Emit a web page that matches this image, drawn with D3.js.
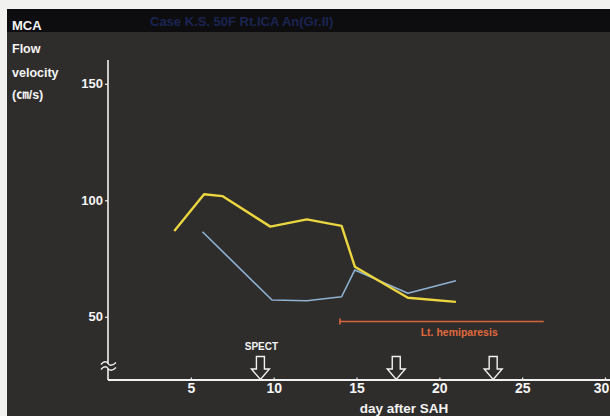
<!DOCTYPE html>
<html>
<head>
<meta charset="utf-8">
<script src="https://cdn.jsdelivr.net/npm/d3@7"></script>
<style>
  html, body { margin: 0; padding: 0; background: #f1f1f0; }
  svg { display: block; }
  .num { font-family: "Liberation Sans Narrow", "Arial Narrow", "Liberation Sans", Arial, sans-serif; font-weight: bold; }
  .lab { font-family: "Liberation Sans", Arial, "Noto Sans CJK JP", sans-serif; font-weight: bold; }
</style>
</head>
<body>
<svg id="chart" width="610" height="416"></svg>
<script>
// Doppler MCA flow velocity by day after SAH
const yellowDays = [4, 5.8, 6.9, 9.8, 12, 14.1, 14.9, 18.1, 21];
const yellowValues = [86.8, 102.6, 101.8, 88.7, 91.8, 89, 71.5, 58.2, 56.4];
const blueDays = [5.7, 9.9, 12, 14.1, 14.9, 18.1, 21];
const blueValues = [86.5, 57.2, 56.9, 58.6, 70.1, 60.1, 65.5];
const xTicks = [5, 10, 15, 20, 25, 30];
const yTicks = [50, 100, 150];
const paresisSpan = [14, 26.3];
const paresisLevel = 48;
const spectDays = [9.2, 17.4, 23.25];
const yLabelLines = ["MCA", "Flow", "velocity", "(㎝/s)"];
const titleText = "Case K.S. 50F Rt.ICA An(Gr.II)";

const svg = d3.select("#chart");
const W = 610, H = 416;
const axisY = 380;

const x = d3.scaleLinear().domain([0, 30]).range([108, 605]);
const y = d3.scaleLinear().domain([50, 150]).range([316.8, 83.8]);
const x0 = x(0);

// panel background and title band
svg.append("rect").attr("x", 7).attr("y", 9).attr("width", W - 7).attr("height", H - 9).attr("fill", "#2e2d2b");
svg.append("rect").attr("x", 7).attr("y", 9).attr("width", W - 7).attr("height", 23).attr("fill", "#0d0d10");
svg.append("text").attr("class", "lab").attr("x", 150).attr("y", 26)
  .attr("font-size", 13).attr("fill", "#1b2452").text(titleText);

// y label block
const yLab = [30, 53, 77, 99];
yLabelLines.forEach((t, i) => {
  svg.append("text").attr("class", "lab").attr("x", 12).attr("y", yLab[i])
    .attr("font-size", i === 0 ? 13 : 12.5).attr("fill", "#f4f4f4").text(t);
});

// y axis with tick labels
const gy = svg.append("g").attr("transform", `translate(${x0},0)`)
  .call(d3.axisLeft(y).tickValues(yTicks).tickSize(3).tickPadding(2));
gy.select(".domain").remove();
gy.selectAll(".tick line").attr("stroke", "#f2f2f2").attr("stroke-width", 1.2);
gy.selectAll(".tick text").attr("class", "num").attr("font-size", 13).attr("fill", "#f4f4f4");

// y axis line with break mark
const breakTop = 363.5, breakBot = 368.5;
svg.append("line").attr("x1", x0).attr("x2", x0).attr("y1", 60).attr("y2", breakTop)
  .attr("stroke", "#f2f2f2").attr("stroke-width", 1.6);
svg.append("line").attr("x1", x0).attr("x2", x0).attr("y1", breakBot).attr("y2", axisY)
  .attr("stroke", "#f2f2f2").attr("stroke-width", 1.6);
[breakTop, breakBot].forEach(by => {
  svg.append("path")
    .attr("d", `M${x0 - 7},${by + 1} C${x0 - 4},${by - 3} ${x0 - 1},${by - 2} ${x0},${by} S${x0 + 4},${by + 3} ${x0 + 8},${by - 1}`)
    .attr("fill", "none").attr("stroke", "#f2f2f2").attr("stroke-width", 1.3);
});

// x axis
svg.append("line").attr("x1", x0).attr("x2", W).attr("y1", axisY).attr("y2", axisY)
  .attr("stroke", "#f2f2f2").attr("stroke-width", 1.8);
const gx = svg.append("g").attr("transform", `translate(0,${axisY})`)
  .call(d3.axisBottom(x).tickValues(xTicks).tickSizeInner(-2.5).tickSizeOuter(0).tickPadding(3));
gx.select(".domain").remove();
gx.selectAll(".tick line").attr("stroke", "#f2f2f2").attr("stroke-width", 1.2);
gx.selectAll(".tick text").attr("class", "num").attr("font-size", 14).attr("fill", "#f4f4f4")
  .attr("dx", d => d === 30 ? -4 : 0);

svg.append("text").attr("class", "lab").attr("x", 404).attr("y", 413)
  .attr("text-anchor", "middle").attr("font-size", 13.5).attr("fill", "#f4f4f4").text("day after SAH");

// velocity series
const line = d3.line().x(d => x(d[0])).y(d => y(d[1]));
svg.append("path").datum(blueDays.map((d, i) => [d, blueValues[i]]))
  .attr("d", line).attr("fill", "none").attr("stroke", "#8fb1d2").attr("stroke-width", 1.6)
  .attr("stroke-linejoin", "round");
svg.append("path").datum(yellowDays.map((d, i) => [d, yellowValues[i]]))
  .attr("d", line).attr("fill", "none").attr("stroke", "#ecd640").attr("stroke-width", 2.4)
  .attr("stroke-linejoin", "round");

// left hemiparesis period
const py = y(paresisLevel);
svg.append("line").attr("x1", x(paresisSpan[0])).attr("x2", x(paresisSpan[1])).attr("y1", py).attr("y2", py)
  .attr("stroke", "#d9653c").attr("stroke-width", 1.6);
svg.append("line").attr("x1", x(paresisSpan[0])).attr("x2", x(paresisSpan[0])).attr("y1", py - 3).attr("y2", py + 3)
  .attr("stroke", "#d9653c").attr("stroke-width", 1.6);
svg.append("text").attr("class", "lab").attr("x", x(21.2)).attr("y", 336)
  .attr("text-anchor", "middle").attr("font-size", 10.5).attr("fill", "#e0693e").text("Lt. hemiparesis");

// SPECT examination arrows
spectDays.forEach(d => {
  const cx = x(d), top = 356.5, neck = 369, tip = axisY - 0.5;
  svg.append("path")
    .attr("d", `M${cx - 4},${top} L${cx + 4},${top} L${cx + 4},${neck} L${cx + 9},${neck} L${cx},${tip} L${cx - 9},${neck} L${cx - 4},${neck} Z`)
    .attr("fill", "#2e2d2b").attr("stroke", "#f2f2f2").attr("stroke-width", 1.4).attr("stroke-linejoin", "miter");
});
svg.append("text").attr("class", "lab").attr("x", x(spectDays[0]) + 1).attr("y", 350)
  .attr("text-anchor", "middle").attr("font-size", 10).attr("fill", "#f4f4f4").text("SPECT");
</script>
</body>
</html>
